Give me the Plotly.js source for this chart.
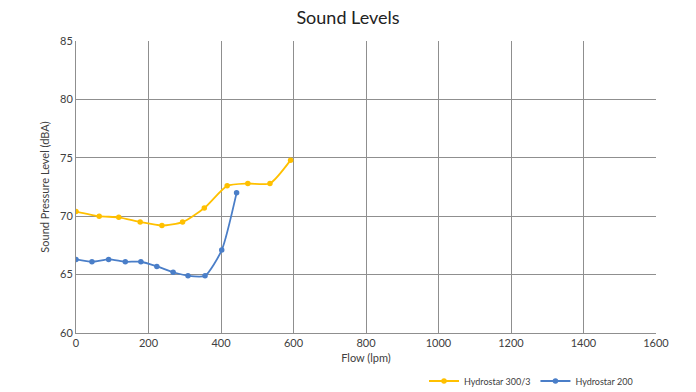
<!DOCTYPE html>
<html>
<head>
<meta charset="utf-8">
<script src="https://cdn.plot.ly/plotly-3.0.1.min.js"></script>
<style>html,body{margin:0;padding:0;background:#fff;}#chart{width:696px;height:392px;}</style>
</head>
<body>
<div id="chart"></div>
<script>
const flow300 = [0, 64, 118, 177, 237, 294, 354, 417, 474, 535, 592];
const spl300 = [70.4, 70.0, 69.9, 69.5, 69.2, 69.5, 70.7, 72.6, 72.8, 72.8, 74.8];
const flow200 = [0, 44, 90, 136, 179, 223, 268, 309, 356, 402, 443];
const spl200 = [66.3, 66.1, 66.3, 66.1, 66.1, 65.7, 65.2, 64.9, 64.9, 67.1, 72.0];
const seriesNames = ["Hydrostar 300/3", "Hydrostar 200"];
const xTicks = [0, 200, 400, 600, 800, 1000, 1200, 1400, 1600];
const yTicks = [60, 65, 70, 75, 80, 85];

const fontFam = "Lato, 'Open Sans', sans-serif";
const traces = [
  {x: flow300, y: spl300, name: seriesNames[0], mode: "lines+markers",
   line: {color: "#ffc000", width: 1.8, shape: "spline", smoothing: 0.6},
   marker: {color: "#ffc000", size: 5.5}},
  {x: flow200, y: spl200, name: seriesNames[1], mode: "lines+markers",
   line: {color: "#4a7ec8", width: 1.8, shape: "spline", smoothing: 0.6},
   marker: {color: "#4a7ec8", size: 5.5}}
];
const layout = {
  width: 696, height: 392,
  margin: {l: 76, r: 40, t: 41, b: 59},
  paper_bgcolor: "#fff", plot_bgcolor: "#fff",
  font: {family: fontFam, color: "#404040", size: 11},
  title: {text: "Sound Levels", font: {size: 18, color: "#222"}, x: 0.5, xanchor: "center", y: 0.955, yanchor: "middle"},
  xaxis: {range: [0, 1600], tickvals: xTicks, ticktext: xTicks.map(String),
    showgrid: true, gridcolor: "#8f8f8f", gridwidth: 1,
    showline: true, linecolor: "#8f8f8f", linewidth: 1, zeroline: false,
    ticks: "", ticklen: 0, tickfont: {size: 11}, automargin: false,
    title: {text: "Flow (lpm)", font: {size: 11}, standoff: 6}},
  yaxis: {range: [60, 85], tickvals: yTicks, ticktext: yTicks.map(String),
    showgrid: true, gridcolor: "#8f8f8f", gridwidth: 1,
    showline: true, linecolor: "#8f8f8f", linewidth: 1, zeroline: false,
    ticks: "", tickfont: {size: 11}, automargin: false,
    title: {text: "Sound Pressure Level (dBA)", font: {size: 11}, standoff: 8}},
  legend: {orientation: "h", x: 0.6, xanchor: "left", yref: "container", y: 0.028, yanchor: "middle",
    font: {size: 9, color: "#404040"}, itemwidth: 30, tracegroupgap: 0},
  showlegend: true
};
Plotly.newPlot("chart", traces, layout, {displayModeBar: false, staticPlot: true});
</script>
</body>
</html>
